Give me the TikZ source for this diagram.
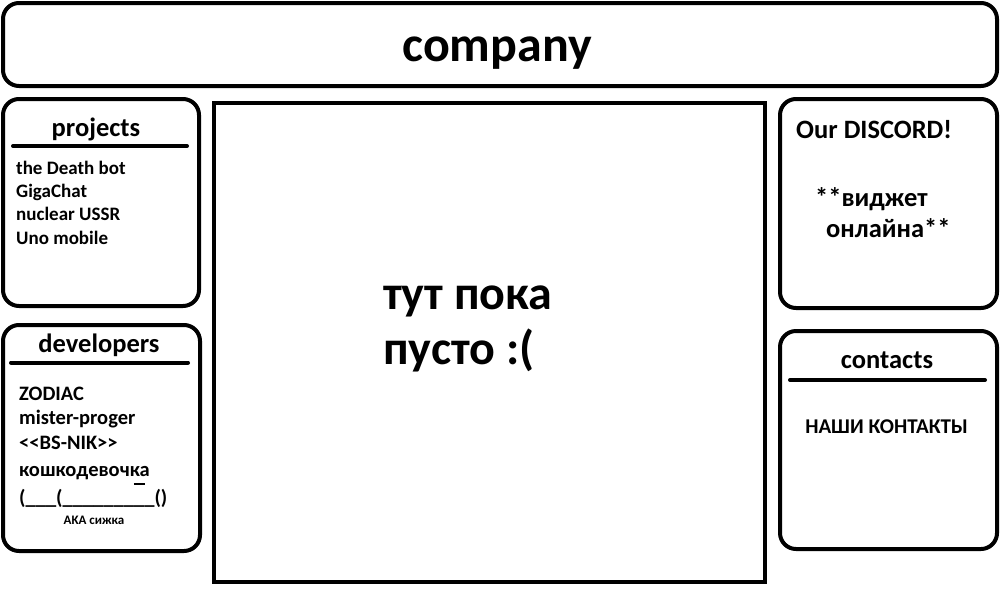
\documentclass[tikz,border=0pt]{standalone}
\usepackage{fontspec}
\setmainfont{Carlito}
\usetikzlibrary{positioning}

\tikzset{
	panel/.style = {draw, line width=4pt, rounded corners=16pt},
	rulebar/.style = {line width=4pt, line cap=round},
	head/.style = {font=\bfseries\fontsize{26.5}{30}\selectfont, anchor=base},
	entry/.style = {font=\bfseries\fontsize{19}{23}\selectfont, anchor=base west, inner sep=0pt},
}

\begin{document}
\begin{tikzpicture}[x=1pt, y=-1pt]
	\useasboundingbox (0,0) rectangle (1000,600);
	% panels
		\draw[panel] (3,3) rectangle (997,86);
		\draw[panel] (3,99) rectangle (199,306);
		\draw[panel] (3,325) rectangle (200,551);
		\draw[panel, rounded corners=0pt] (214,103) rectangle (765,582);
		\draw[panel] (780,99) rectangle (997,308);
		\draw[panel] (780,331) rectangle (997,549);
	\node[font=\bfseries\fontsize{50}{55}\selectfont, anchor=base] (company) at (497,61) {company};
	\begin{scope}
		\node[head] (projects) at (96,136) {projects};
		\coordinate (pl) at (13,146);
		\coordinate (pr) at (187,146);
		\draw[rulebar] (pl) -- (pr);
		\node[entry] (p1) at (16,174) {the Death bot};
		\node[entry] (p2) at (16,197.3) {GigaChat};
		\node[entry] (p3) at (16,220.6) {nuclear USSR};
		\node[entry] (p4) at (16,244) {Uno mobile};
	\end{scope}
	\begin{scope}[entry/.append style = {font=\bfseries\fontsize{20.5}{24}\selectfont}]
		\node[head] (developers) at (99,352) {developers};
		\coordinate (dl) at (11,362.5);
		\coordinate (dr) at (188,362.5);
		\draw[rulebar] (dl) -- (dr);
		\node[entry] (d1) at (19,400) {ZODIAC};
		\node[entry] (d2) at (19,424) {mister-proger};
		\node[entry] (d3) at (19,449) {<{}<BS-NIK>{}>};
		\node[entry] (d4) at (19,476.5) {кошкодевочка};
		\node[entry] (d5) at (19,504) {(\_\_\_(\_\_\_\_\_\_\_\_\_()};
		\coordinate[below left=7.5pt and 16pt of d4.base east] (ol);
		\coordinate[below left=7.5pt and 5pt of d4.base east] (or);
		\draw[line width=2pt] (ol) -- (or);
		\node[font=\bfseries\fontsize{13}{15}\selectfont, anchor=base] (aka) at (94,524.5) {AKA сижка};
	\end{scope}
	\node[font=\bfseries\fontsize{48}{55}\selectfont, align=left, anchor=base west, inner sep=0pt] (empty) at (383,364) {тут пока\\[0pt]пусто :(};
	\begin{scope}
		\node[head, anchor=base west, inner sep=0pt] (discord) at (796,138) {Our DISCORD!};
		\node[head, anchor=base west, inner sep=0pt] (w1) at (815,206) {**виджет};
		\node[head, anchor=base west, inner sep=0pt] (w2) at (826,237.5) {онлайна**};
	\end{scope}
	\begin{scope}
		\node[head] (contacts) at (887,368) {contacts};
		\coordinate (cl) at (790,380);
		\coordinate (cr) at (985,380);
		\draw[rulebar] (cl) -- (cr);
		\node[font=\bfseries\fontsize{21}{24}\selectfont, anchor=base] (ours) at (886.5,433.5) {НАШИ КОНТАКТЫ};
	\end{scope}
\end{tikzpicture}
\end{document}
